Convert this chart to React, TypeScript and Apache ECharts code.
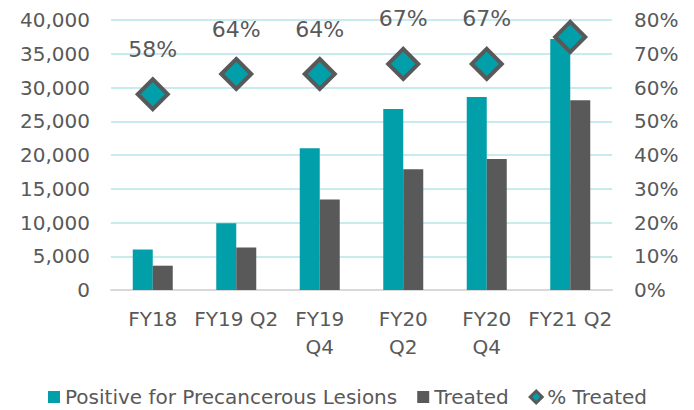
import React, { useEffect, useRef } from "react";
import * as echarts from "echarts";

const categories = ["FY18", "FY19 Q2", "FY19 Q4", "FY20 Q2", "FY20 Q4", "FY21 Q2"];
const tickLabels = ["FY18", "FY19 Q2", "FY19\nQ4", "FY20\nQ2", "FY20\nQ4", "FY21 Q2"];
const positiveValues = [6000, 9900, 21000, 26800, 28600, 37200];
const treatedValues = [3600, 6300, 13400, 17900, 19400, 28100];
const pctTreated = [58, 64, 64, 67, 67, 75];

const TEAL = "#009FAA";
const GRAY = "#595959";
const FONT = "DejaVu Sans";

export default function App() {
  const ref = useRef<HTMLDivElement>(null);
  useEffect(() => {
    if (!ref.current) return;
    const chart = echarts.init(ref.current, null, { renderer: "svg" });
    chart.setOption({
      animation: false,
      backgroundColor: "#ffffff",
      textStyle: { fontFamily: FONT },
      grid: { left: 111, right: 82, top: 20, bottom: 120, outerBoundsMode: "none" },
      legend: {
        left: 43,
        top: 382,
        itemWidth: 12,
        itemHeight: 12,
        itemGap: 20,
        textStyle: { fontFamily: FONT, fontSize: 20, color: GRAY },
        data: [
          { name: "Positive for Precancerous Lesions", icon: "rect" },
          { name: "Treated", icon: "rect" },
          { name: "% Treated", icon: "diamond", itemStyle: { borderWidth: 3 } },
        ],
      },
      xAxis: {
        type: "category",
        data: categories,
        axisTick: { show: false },
        axisLine: { lineStyle: { color: "#D9D9D9", width: 2 } },
        axisLabel: {
          interval: 0,
          margin: 15,
          fontFamily: FONT,
          fontSize: 20,
          lineHeight: 28,
          color: GRAY,
          formatter: (_v: string, i: number) => tickLabels[i],
        },
      },
      yAxis: [
        {
          type: "value",
          min: 0,
          max: 40000,
          interval: 5000,
          axisLine: { show: false },
          axisTick: { show: false },
          splitLine: { lineStyle: { color: "#C8EBEE", width: 2 } },
          axisLabel: {
            margin: 21,
            fontFamily: FONT,
            fontSize: 20,
            color: GRAY,
            formatter: (v: number) => v.toLocaleString("en-US"),
          },
        },
        {
          type: "value",
          min: 0,
          max: 80,
          interval: 10,
          axisLine: { show: false },
          axisTick: { show: false },
          splitLine: { show: false },
          axisLabel: {
            margin: 22,
            fontFamily: FONT,
            fontSize: 20,
            color: GRAY,
            formatter: "{value}%",
          },
        },
      ],
      series: [
        {
          name: "Positive for Precancerous Lesions",
          type: "bar",
          data: positiveValues,
          barWidth: 20,
          barGap: "0%",
          itemStyle: { color: TEAL },
        },
        {
          name: "Treated",
          type: "bar",
          data: treatedValues,
          barWidth: 20,
          barGap: "0%",
          itemStyle: { color: GRAY },
        },
        {
          name: "% Treated",
          type: "line",
          yAxisIndex: 1,
          data: pctTreated,
          symbol: "diamond",
          symbolSize: 30,
          lineStyle: { width: 0, opacity: 0 },
          itemStyle: { color: TEAL, borderColor: GRAY, borderWidth: 4 },
          label: {
            show: true,
            position: "top",
            distance: 17,
            fontFamily: FONT,
            fontSize: 22,
            color: GRAY,
            formatter: "{c}%",
          },
          z: 5,
        },
      ],
    });
    return () => chart.dispose();
  }, []);
  return <div ref={ref} style={{ width: 694, height: 410, position: "absolute", left: 0, top: 0 }} />;
}
